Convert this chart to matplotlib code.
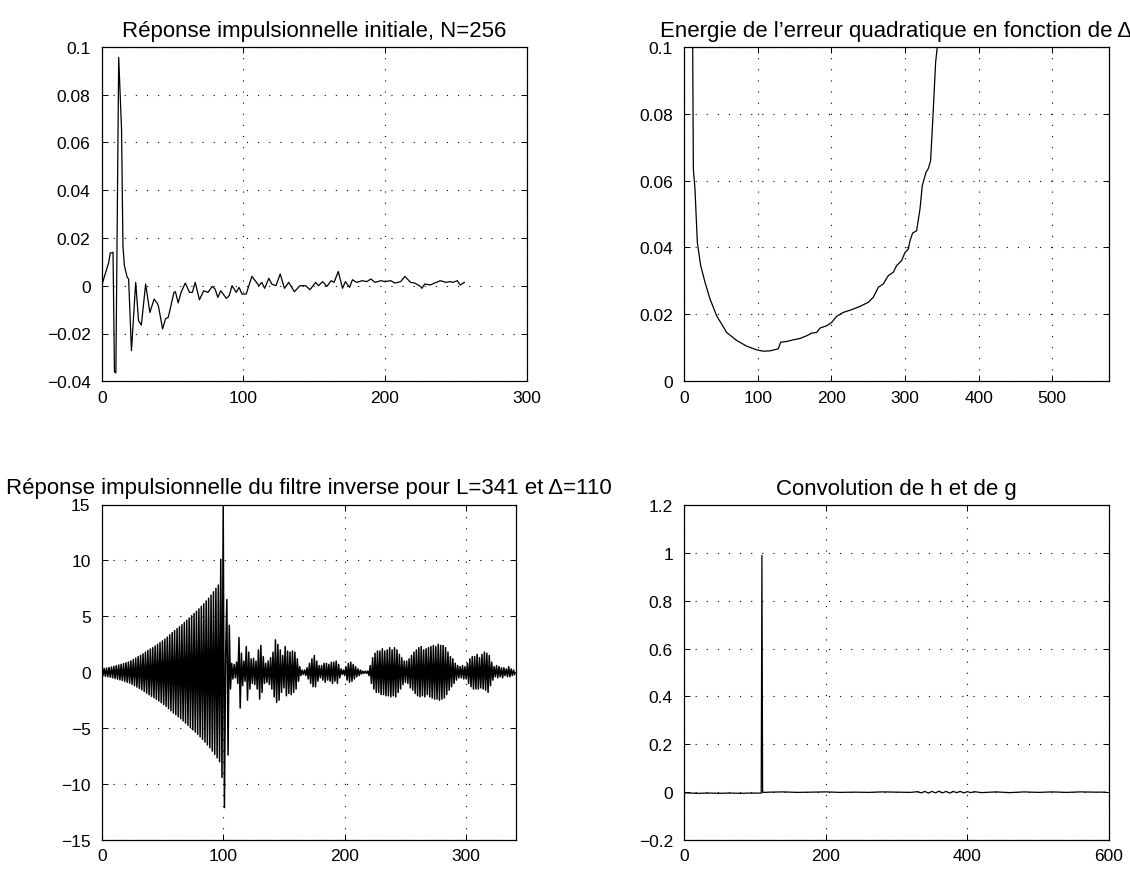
import numpy as np
import matplotlib
matplotlib.use("Agg")
import matplotlib.pyplot as plt
from matplotlib.ticker import FuncFormatter

plt.rcParams['font.family'] = ['Liberation Sans', 'DejaVu Sans']
plt.rcParams['axes.unicode_minus'] = True

# ---------------- data ----------------
# initial impulse response h (N=256)
h_n = [0, 2, 5, 6, 7, 8, 9, 10, 12, 14, 15, 16, 18, 19, 21, 24, 26, 28, 31, 34,
       37, 39, 40, 43, 45, 47, 51, 52, 54, 56, 59, 62, 64, 66, 69, 72, 75, 78, 80, 82,
       84, 88, 90, 92, 95, 97, 99, 102, 106, 111, 113, 115, 118, 120, 123, 126, 129, 132, 136, 140,
       144, 147, 151, 153, 156, 159, 162, 164, 167, 170, 172, 175, 177, 180, 184, 187, 190, 193, 197, 200,
       204, 207, 211, 214, 218, 221, 225, 226, 228, 232, 235, 239, 243, 246, 248, 251, 253, 256]
h_v = [0, 0.004, 0.0098, 0.0137, 0.0137, 0.014, -0.036, -0.0365, 0.0955, 0.0655,
       0.0167, 0.0084, 0.0035, 0.0028, -0.0272, 0.0014, -0.0146, -0.0165, 0.0007, -0.0112,
       -0.0056, -0.0072, -0.0084, -0.0181, -0.0139, -0.0132, -0.0028, -0.0025, -0.0072, -0.0028,
       0.0011, -0.0028, -0.0028, 0.0014, -0.0059, -0.0021, -0.0028, -0.0003, -0.0014, -0.0049,
       -0.0021, -0.0053, -0.0042, 0.0, -0.0028, -0.0007, -0.0035, -0.0035, 0.0039, 0.0,
       0.0014, -0.0011, 0.0031, 0.0007, 0.0, 0.0049, -0.0011, 0.0014, -0.0025, 0.0,
       0.0, -0.0017, 0.0014, 0.0, 0.0017, -0.0003, 0.0021, 0.0014, 0.0059, -0.0011,
       0.0017, -0.0007, 0.0025, 0.0014, 0.0021, 0.0017, 0.0028, 0.0014, 0.0021, 0.0017,
       0.0021, 0.0011, 0.0017, 0.0039, 0.0014, 0.0011, -0.0003, -0.0011, 0.0007, 0.0003,
       0.0011, 0.0021, 0.0014, 0.0017, 0.0014, 0.0021, 0.0003, 0.0014]

# quadratic error energy as a function of delta
delta = [1, 4, 8, 11, 11.8, 12.7, 14.9, 18.1, 22.6, 28.5, 35.3, 44.3, 51.1, 57.9, 71.5,
         85.1, 98.6, 107.7, 116.7, 128, 131.2, 139.4, 148.4, 157.5, 166.5, 173.3, 180.1,
         184.6, 193.7, 200.5, 207.2, 216.3, 227.6, 238.9, 250.2, 257, 263.8, 270.6, 277.4,
         284.2, 288.7, 295.5, 300, 304.5, 306.8, 310.4, 315.8, 320.4, 323.5, 328.5, 331.7,
         334.8, 337.1, 339.4, 341.6, 343.9, 348, 360, 400, 450, 500, 550, 576]
err = [1.0, 0.7, 0.35, 0.14, 0.1, 0.0634, 0.0575, 0.0415, 0.0346, 0.0296, 0.0246, 0.0196,
       0.0171, 0.0146, 0.0122, 0.0105, 0.0094, 0.0090, 0.0091, 0.0097, 0.0117, 0.0119,
       0.0124, 0.0128, 0.0136, 0.0144, 0.0146, 0.0159, 0.0166, 0.0176, 0.0194, 0.0206,
       0.0214, 0.0224, 0.0236, 0.0251, 0.0281, 0.0291, 0.0316, 0.0326, 0.0346, 0.0361,
       0.0385, 0.0395, 0.042, 0.0443, 0.045, 0.0515, 0.0585, 0.0624, 0.0636, 0.0659,
       0.0754, 0.0854, 0.0953, 0.1, 0.13, 0.3, 0.8, 1.0, 1.0, 1.0, 1.0]

# inverse filter impulse response g (L=341, delta=110)
g = [0.30, -0.32, 0.34, -0.36, 0.38, -0.40, 0.42, -0.44, 0.47, -0.50,
     0.53, -0.56, 0.59, -0.62, 0.65, -0.68, 0.71, -0.74, 0.78, -0.82,
     0.85, -0.90, 0.92, -0.97, 1.02, -1.08, 1.14, -1.20, 1.26, -1.33,
     1.40, -1.45, 1.52, -1.58, 1.65, -1.72, 1.80, -1.87, 1.95, -2.02,
     2.08, -2.15, 2.20, -2.28, 2.35, -2.42, 2.50, -2.57, 2.65, -2.72,
     2.80, -2.88, 2.97, -3.05, 3.15, -3.25, 3.35, -3.45, 3.55, -3.65,
     3.72, -3.80, 3.90, -3.98, 4.07, -4.15, 4.25, -4.35, 4.45, -4.55,
     4.65, -4.75, 4.85, -4.95, 5.05, -5.15, 5.25, -5.35, 5.45, -5.55,
     5.67, -5.78, 5.90, -6.00, 6.12, -6.25, 6.38, -6.50, 6.62, -6.75,
     6.90, -7.05, 7.20, -7.35, 7.50, -7.65, 7.80, -8.00, 10.1, -9.4,
     14.8, -12.1, 1.5, 6.5, -7.4, 4.2, -1.5, 0.8, -0.6, 0.7,
     -0.5, 0.9, -1.0, 3.1, -3.2, 1.7, -1.2, 1.0, -0.8, 2.3,
     -2.5, 1.8, -1.5, 1.2, -1.0, 1.25, -1.1, 1.0, -1.5, 2.0,
     -2.4, 2.4, -1.8, 1.4, -1.0, 0.8, -0.9, 1.0, -1.1, 1.3,
     -1.5, 1.8, -2.2, 2.9, -2.7, 2.5, -2.5, 2.0, -1.8, 1.5,
     -1.4, 2.3, -2.1, 1.9, -1.9, 1.8, -2.0, 1.9, -1.8, 1.8,
     -1.5, 1.2, -0.8, 0.5, -0.3, 0.2, -0.2, 0.2, -0.3, 0.4,
     -0.6, 0.8, -1.0, 1.2, -1.3, 1.5, -1.3, 1.0, -0.8, 0.6,
     -0.5, 0.6, -0.7, 0.8, -0.9, 0.8, -0.7, 0.7, -0.8, 0.9,
     -1.0, 0.9, -0.8, 1.0, -1.0, 0.7, -0.5, 0.3, -0.2, 0.2,
     -0.3, 0.5, -0.7, 0.8, -0.9, 0.9, -0.8, 0.7, -0.6, 0.5,
     -0.4, 0.3, -0.3, 0.2, -0.15, 0.1, -0.1, 0.1, -0.1, 0.1,
     -0.3, 0.6, -1.0, 1.3, -1.5, 1.7, -1.8, 1.9, -1.8, 1.9,
     -2.0, 2.1, -2.0, 1.9, -2.1, 2.0, -2.1, 2.2, -2.2, 2.0,
     -2.1, 2.2, -2.2, 2.0, -1.8, 1.6, -1.5, 1.3, -1.1, 1.0,
     -0.9, 1.0, -1.0, 1.2, -1.4, 1.5, -1.6, 1.8, -1.9, 2.0,
     -2.1, 2.2, -2.2, 2.3, -2.1, 2.0, -2.2, 2.1, -2.0, 2.2,
     -2.2, 2.3, -2.3, 2.4, -2.4, 2.3, -2.4, 2.5, -2.5, 2.4,
     -2.4, 2.4, -2.3, 2.2, -2.0, 1.8, -1.6, 1.4, -1.3, 1.2,
     -1.0, 0.8, -0.7, 0.6, -0.5, 0.5, -0.5, 0.6, -0.6, 0.5,
     -0.6, 0.8, -1.0, 1.2, -1.3, 1.4, -1.5, 1.4, -1.5, 1.6,
     -1.5, 1.3, -1.4, 1.6, -1.5, 1.8, -1.6, 1.7, -1.8, 1.5,
     -1.2, 0.9, -0.7, 0.5, -0.4, 0.6, -0.5, 0.5, -0.4, 0.4,
     -0.5, 0.4, -0.3, 0.3, -0.4, 0.5, -0.4, 0.3, -0.3, 0.2,
     -0.2]

# convolution of h and g
conv_n = [0, 10, 20, 30, 40, 50, 60, 70, 80, 90, 100, 105, 109, 110, 111, 115, 120,
          140, 160, 180, 200, 220, 240, 260, 280, 300, 320, 330, 335, 340, 345, 350, 355,
          360, 365, 370, 375, 380, 385, 390, 395, 400, 405, 410, 420, 440, 460, 480, 500,
          520, 540, 560, 580, 595]
conv_v = [-0.003, -0.004, -0.005, -0.004, -0.004, -0.005, -0.004, -0.004, -0.005, -0.004,
          -0.004, -0.004, -0.004, 0.989, 0.0, -0.001, 0.0,
          0.001, -0.001, 0.0, 0.001, -0.001, 0.0, -0.001, 0.001, 0.0, -0.001, 0.002, -0.003,
          0.003, -0.004, 0.003, -0.003, 0.004, -0.003, 0.003, -0.004, 0.003, -0.002, 0.003,
          -0.003, 0.002, -0.002, 0.002, -0.002, 0.001, -0.002, 0.001, -0.001, 0.001, -0.001,
          0.001, 0.0, 0.0]

# ---------------- figure ----------------
fig = plt.figure(figsize=(11.3, 8.7), dpi=100)
W, H = 1130.0, 870.0

def make_ax(x0, x1, y0, y1):
    return fig.add_axes([x0 / W, 1 - y1 / H, (x1 - x0) / W, (y1 - y0) / H])

ax1 = make_ax(101.7, 526.7, 47.7, 382.3)
ax2 = make_ax(684.0, 1109.0, 47.7, 382.3)
ax3 = make_ax(101.7, 516.0, 505.5, 841.0)
ax4 = make_ax(684.0, 1109.0, 506.0, 841.0)

FS = 12.5
TFS = 16

def fmt(v, pos):
    s = '%g' % v
    if s == '-0':
        s = '0'
    return s.replace('-', '\u2212')

def style(ax, xt, yt, xl, yl, title):
    ax.set_xlim(*xl)
    ax.set_ylim(*yl)
    ax.set_xticks(xt)
    ax.set_yticks(yt)
    ax.xaxis.set_major_formatter(FuncFormatter(fmt))
    ax.yaxis.set_major_formatter(FuncFormatter(fmt))
    ax.tick_params(direction='in', top=True, right=True, length=4, width=0.7,
                   labelsize=FS, color='black')
    ax.tick_params(axis='y', pad=8)
    ax.tick_params(axis='x', pad=6)
    ax.grid(True, color='black', linestyle=(0, (1, 9)), linewidth=0.8)
    for sp in ax.spines.values():
        sp.set_linewidth(0.9)
        sp.set_color('black')
    ax.set_title(title, fontsize=TFS, pad=8)

ax1.plot(h_n, h_v, color='black', linewidth=0.9)
style(ax1, [0, 100, 200, 300], [-0.04, -0.02, 0, 0.02, 0.04, 0.06, 0.08, 0.1],
      (0, 300), (-0.04, 0.1), 'Réponse impulsionnelle initiale, N=256')

ax2.plot(delta, err, color='black', linewidth=0.9)
style(ax2, [0, 100, 200, 300, 400, 500], [0, 0.02, 0.04, 0.06, 0.08, 0.1],
      (0, 577), (0, 0.1), "Energie de l\u2019erreur quadratique en fonction de \u0394")

g_n = np.arange(len(g))
ax3.plot(g_n, g, color='black', linewidth=1.1)
style(ax3, [0, 100, 200, 300], [-15, -10, -5, 0, 5, 10, 15],
      (0, 341), (-15, 15), 'Réponse impulsionnelle du filtre inverse pour L=341 et \u0394=110')

ax4.plot(conv_n, conv_v, color='black', linewidth=0.9)
style(ax4, [0, 200, 400, 600], [-0.2, 0, 0.2, 0.4, 0.6, 0.8, 1.0, 1.2],
      (0, 600), (-0.2, 1.2), 'Convolution de h et de g')

fig.savefig('out.png', dpi=100)
